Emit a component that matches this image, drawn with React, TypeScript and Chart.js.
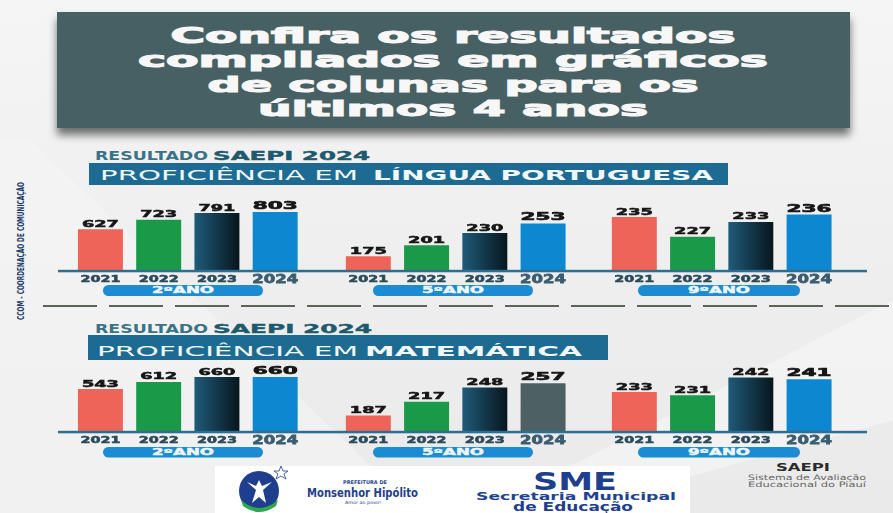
import React, { useEffect, useRef } from "react";
import { Chart, registerables } from "chart.js";

Chart.register(...registerables);

// ---------- data ----------
const YEARS = ["2021", "2022", "2023", "2024"];
const GROUP_LABELS = ["2ºANO", "5ºANO", "9ºANO"];

const LP_2ANO = [627, 723, 791, 803];
const LP_5ANO = [175, 201, 230, 253];
const LP_9ANO = [235, 227, 233, 236];

const MAT_2ANO = [543, 612, 660, 660];
const MAT_5ANO = [187, 217, 248, 257];
const MAT_9ANO = [233, 231, 242, 241];

// value-axis ranges (min, max) of each small chart
const LP_RANGES = [[201, 1016], [140, 330], [213, 245.6]];
const MAT_RANGES = [[124, 904], [151, 325], [208, 258]];

const TITLE_LINES = ["Confira os resultados", "compilados em gráficos", "de colunas para os", "últimos 4 anos"];

// ---------- styles / layout ----------
const C2021 = "#ef6459";
const C2022 = "#1a9a48";
const C2024 = "#0d88d0";
const C2024_GREY = "#4d6164";
const LINE_COLOR = "#2d6e95";
const FONT = '"DejaVu Sans"';

const CANVAS_X = [58, 322, 589];
const CANVAS_W = [264, 267, 278];
const PAD_L = [13.3, 17.2, 16.2];
const PAD_R = [17.7, 16.8, 28.8];
const CANVAS_H = 114;
const PAD_TOP = 20;
const PAD_BOTTOM = 14;

function stretchText(
  ctx: CanvasRenderingContext2D,
  text: string,
  cx: number,
  baseY: number,
  capH: number,
  targetW: number,
  color: string
) {
  const fs = 20;
  ctx.save();
  ctx.font = `bold ${fs}px ${FONT}`;
  const w = ctx.measureText(text).width || 1;
  ctx.translate(cx, baseY);
  ctx.scale(targetW / w, capH / (fs * 0.729));
  ctx.textAlign = "center";
  ctx.textBaseline = "alphabetic";
  ctx.fillStyle = color;
  ctx.strokeStyle = color;
  ctx.lineWidth = 1.2;
  ctx.fillText(text, 0, 0);
  ctx.strokeText(text, 0, 0);
  ctx.restore();
}

const labelPlugin = {
  id: "barLabels",
  afterDatasetsDraw(chart: any) {
    const { ctx, chartArea } = chart;
    const meta = chart.getDatasetMeta(0);
    const vals = chart.data.datasets[0].data as number[];
    ctx.save();
    ctx.fillStyle = LINE_COLOR;
    ctx.fillRect(0, chartArea.bottom - 1.2, chart.width, 2.5);
    meta.data.forEach((bar: any, i: number) => {
      const last = i === 3;
      stretchText(ctx, String(vals[i]), bar.x, bar.y - (last ? 3 : 2.5), last ? 8 : 6, last ? 45 : 37, "#161616");
      stretchText(
        ctx,
        String(chart.data.labels[i]),
        bar.x,
        chartArea.bottom + (last ? 12 : 10.5),
        last ? 9.4 : 5.7,
        last ? 46 : 40,
        last ? "#3a5d70" : "#2b4a5a"
      );
    });
    ctx.restore();
  },
};

type GroupProps = {
  values: number[];
  range: number[];
  idx: number;
  top: number;
  lastColor: string;
};

function BarGroup({ values, range, idx, top, lastColor }: GroupProps) {
  const ref = useRef<HTMLCanvasElement>(null);
  useEffect(() => {
    const colors = [C2021, C2022, "#12384a", lastColor];
    const chart = new Chart(ref.current as HTMLCanvasElement, {
      type: "bar",
      data: {
        labels: YEARS,
        datasets: [
          {
            data: values,
            borderWidth: 0,
            barPercentage: 0.772,
            categoryPercentage: 1,
            backgroundColor: (c: any) => {
              const i = c.dataIndex;
              if (i === 2) {
                const ch = c.chart;
                const xs = ch.scales && ch.scales.x;
                if (!xs || !ch.chartArea) return colors[2];
                const cx = xs.getPixelForValue(2);
                const half = ((xs.width / 4) * 0.772) / 2;
                const g = ch.ctx.createLinearGradient(cx - half, 0, cx + half, 0);
                g.addColorStop(0, "#1f5b79");
                g.addColorStop(1, "#07161d");
                return g;
              }
              return colors[i] || colors[0];
            },
          } as any,
        ],
      },
      options: {
        animation: false,
        responsive: false,
        maintainAspectRatio: false,
        events: [],
        layout: { padding: { top: PAD_TOP, bottom: PAD_BOTTOM, left: PAD_L[idx], right: PAD_R[idx] } },
        plugins: { legend: { display: false }, tooltip: { enabled: false }, title: { display: false } },
        scales: {
          x: { display: false },
          y: { display: false, min: range[0], max: range[1] },
        },
      },
      plugins: [labelPlugin],
    });
    return () => chart.destroy();
  }, []);
  return (
    <canvas
      ref={ref}
      width={CANVAS_W[idx]}
      height={CANVAS_H}
      style={{ position: "absolute", left: CANVAS_X[idx], top, width: CANVAS_W[idx], height: CANVAS_H, zIndex: 2 }}
    />
  );
}

function T(props: {
  x: number;
  y: number;
  w: number;
  size: number;
  bold?: boolean;
  fill: string;
  children: string;
  transform?: string;
  stroke?: number;
}) {
  return (
    <text
      x={props.x}
      y={props.y}
      textLength={props.w}
      lengthAdjust="spacingAndGlyphs"
      fontFamily={FONT}
      fontSize={props.size}
      fontWeight={props.bold ? "bold" : "normal"}
      fill={props.fill}
      stroke={props.stroke ? props.fill : undefined}
      strokeWidth={props.stroke}
      transform={props.transform}
    >
      {props.children}
    </text>
  );
}

const PILL_X = [[103, 263], [373, 533], [638, 800]];

function Pills({ y, h }: { y: number; h: number }) {
  return (
    <g>
      {GROUP_LABELS.map((lab, i) => {
        const [a, b] = PILL_X[i];
        const cx = (a + b) / 2;
        return (
          <g key={lab}>
            <rect x={a} y={y} width={b - a} height={h} rx={h / 2} fill="#1b8cd3" />
            <T x={cx - 31} y={y + 8.3} w={62} size={8.2} bold fill="#eef6fc" stroke={0.4}>
              {lab}
            </T>
          </g>
        );
      })}
    </g>
  );
}

export default function App() {
  const titleW = [565, 630, 491, 390];
  const titleY = [43, 67.3, 91.6, 116];
  return (
    <div
      style={{
        position: "fixed",
        left: 0,
        top: 0,
        width: 893,
        height: 513,
        overflow: "hidden",
        background: "linear-gradient(180deg, #f5f5f5 0%, #eeeeee 55%, #eaeaea 100%)",
      }}
    >
      <svg width={893} height={513} style={{ position: "absolute", left: 0, top: 0, zIndex: 1 }}>
        <defs>
          <filter id="sh" x="-5%" y="-10%" width="110%" height="140%">
            <feDropShadow dx="0" dy="7" stdDeviation="4" floodColor="#000" floodOpacity="0.55" />
          </filter>
        </defs>
        {/* soft background diagonals */}
        <polygon points="0,140 30,140 420,513 0,513" fill="#f5f5f5" opacity="0.6" />
        <polygon points="893,300 893,420 560,513 480,513" fill="#f7f7f7" opacity="0.6" />

        {/* title banner */}
        <rect x={57} y={12} width={793} height={116} fill="#466164" filter="url(#sh)" />
        {TITLE_LINES.map((t, i) => (
          <T key={t} x={453 - titleW[i] / 2} y={titleY[i]} w={titleW[i]} size={21} bold fill="#f7f7f7" stroke={1.1}>
            {t}
          </T>
        ))}

        {/* vertical credit */}
        <T x={0} y={0} w={138} size={9} bold fill="#1e3c6e" transform="translate(24,320) rotate(-90)">
          CCOM - COORDENAÇÃO DE COMUNICAÇÃO
        </T>

        {/* section 1 header */}
        <T x={95} y={159.5} w={113} size={13} bold fill="#3a7288">
          RESULTADO
        </T>
        <T x={213} y={159.5} w={157} size={13} bold fill="#1d5a6e" stroke={0.4}>
          SAEPI 2024
        </T>
        <rect x={89} y={163} width={639} height={22} fill="#1d6b93" />
        <T x={100} y={180} w={258} size={14.5} fill="#f2f7fa">
          PROFICIÊNCIA EM
        </T>
        <T x={373} y={180} w={340} size={14.5} bold fill="#f2f7fa">
          LÍNGUA PORTUGUESA
        </T>
        <Pills y={285} h={11} />

        {/* dashed separator */}
        <line x1={43} y1={306} x2={893} y2={306} stroke="#5e6358" strokeWidth={2} strokeDasharray="54 12" />

        {/* section 2 header */}
        <T x={95} y={332.5} w={113} size={13} bold fill="#3a7288">
          RESULTADO
        </T>
        <T x={213} y={332.5} w={159} size={13} bold fill="#1d5a6e" stroke={0.4}>
          SAEPI 2024
        </T>
        <rect x={88} y={335} width={520} height={25} fill="#1d6b93" />
        <T x={97} y={355.5} w={261} size={14.5} fill="#f2f7fa">
          PROFICIÊNCIA EM
        </T>
        <T x={365} y={355.5} w={217} size={14.5} bold fill="#f2f7fa">
          MATEMÁTICA
        </T>
        <Pills y={447} h={10.5} />

        {/* logos */}
        <rect x={215} y={466} width={475} height={47} fill="#ffffff" />
        <circle cx={259} cy={491} r={20} fill="#1f3e8e" />
        <path d="M241,500 Q259,516 278,500 L276,506 Q259,518 243,506 Z" fill="#2fa84f" />
        <path d="M247,482 L256,490 L252,503 L259,497 L266,503 L263,490 L272,482 L262,486 L259,480 L256,486 Z" fill="#ffffff" />
        <polygon points="281,466 283,471 288,471 284,474 286,479 281,476 276,479 278,474 274,471 279,471" fill="#ffffff" stroke="#1f3e8e" strokeWidth={0.8} />
        <T x={343} y={483.5} w={44} size={5} bold fill="#1f3e8e">
          PREFEITURA DE
        </T>
        <T x={307} y={497} w={111} size={12} bold fill="#1f3e8e">
          Monsenhor Hipólito
        </T>
        <T x={345} y={503.5} w={36} size={4.5} fill="#1f3e8e">
          Amor ao povo!
        </T>
        <T x={533} y={490} w={84} size={24} bold fill="#1f3e8e">
          SME
        </T>
        <T x={476} y={500} w={200} size={10} bold fill="#1f4390">
          Secretaria Municipal
        </T>
        <T x={513} y={511} w={120} size={12} bold fill="#1f3e8e">
          de Educação
        </T>

        <T x={776} y={471} w={54} size={11} bold fill="#2a2a2a">
          SAEPI
        </T>
        <T x={748} y={479.5} w={118} size={7.5} fill="#666666">
          Sistema de Avaliação
        </T>
        <T x={748} y={487} w={118} size={7.5} fill="#666666">
          Educacional do Piauí
        </T>
      </svg>

      <BarGroup values={LP_2ANO} range={LP_RANGES[0]} idx={0} top={171} lastColor={C2024} />
      <BarGroup values={LP_5ANO} range={LP_RANGES[1]} idx={1} top={171} lastColor={C2024} />
      <BarGroup values={LP_9ANO} range={LP_RANGES[2]} idx={2} top={171} lastColor={C2024} />

      <BarGroup values={MAT_2ANO} range={MAT_RANGES[0]} idx={0} top={332} lastColor={C2024} />
      <BarGroup values={MAT_5ANO} range={MAT_RANGES[1]} idx={1} top={332} lastColor={C2024_GREY} />
      <BarGroup values={MAT_9ANO} range={MAT_RANGES[2]} idx={2} top={332} lastColor={C2024} />
    </div>
  );
}
